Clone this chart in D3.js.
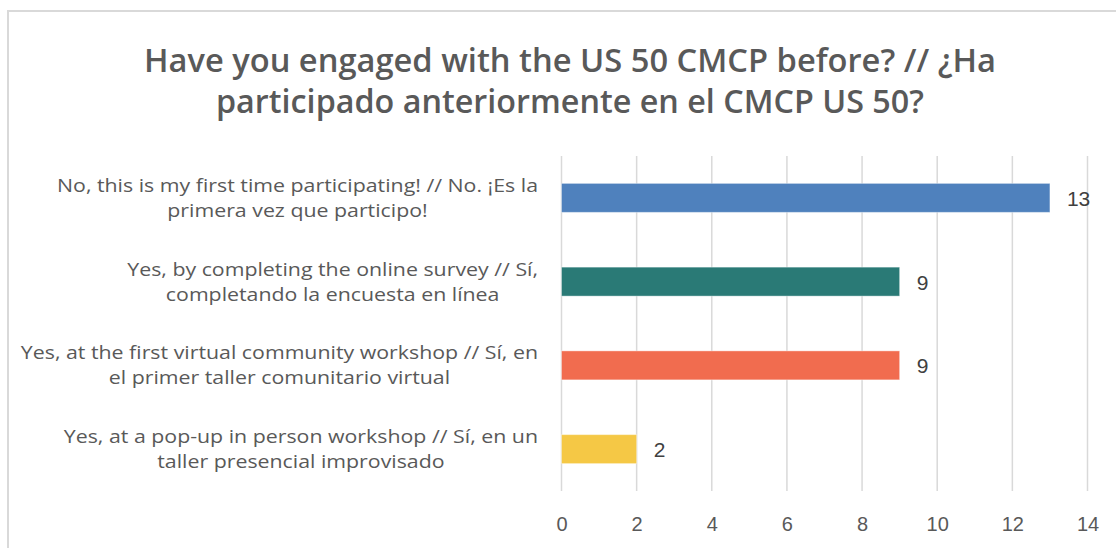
<!DOCTYPE html>
<html>
<head>
<meta charset="utf-8">
<script src="https://cdn.jsdelivr.net/npm/d3@7"></script>
<style>
  body { margin: 0; background: #fff; }
  svg { display: block; }
</style>
</head>
<body>
<div id="chart"></div>
<script>
// Data
var categories = [
  ["No, this is my first time participating! // No. ¡Es la", "primera vez que participo!"],
  ["Yes, by completing the online survey // Sí,", "completando la encuesta en línea"],
  ["Yes, at the first virtual community workshop // Sí, en", "el primer taller comunitario virtual"],
  ["Yes, at a pop-up in person workshop // Sí, en un", "taller presencial improvisado"]
];
var counts = [13, 9, 9, 2];
var barColors = ["#4f81bd", "#2a7a76", "#f16c4f", "#f5c845"];
var xTicks = [0, 2, 4, 6, 8, 10, 12, 14];
var titleLines = ["Have you engaged with the US 50 CMCP before? // ¿Ha", "participado anteriormente en el CMCP US 50?"];

var width = 1116;
var height = 548;

var svg = d3.select('#chart').append('svg')
    .attr('width', width)
    .attr('height', height);

// chart frame (runs off the right and bottom edge)
svg.append('rect')
    .attr('x', 8)
    .attr('y', 11)
    .attr('width', 1200)
    .attr('height', 600)
    .attr('fill', 'none')
    .attr('stroke', '#d9d9d9')
    .attr('stroke-width', 2);

// title
var title = svg.append('g');
title.selectAll('text')
    .data(titleLines)
  .enter().append('text')
    .attr('x', 570)
    .attr('y', function(d, i) { return 72 + i * 41; })
    .attr('text-anchor', 'middle')
    .attr('textLength', function(d, i) { return i == 0 ? 852 : 708; })
    .attr('lengthAdjust', 'spacingAndGlyphs')
    .style('font-family', '"Open Sans", sans-serif')
    .style('font-weight', 600)
    .style('font-size', '33px')
    .style('fill', '#595959')
    .text(function(d) { return d; });

var x = d3.scaleLinear()
    .domain([0, 14])
    .range([561.5, 1087.5]);

var y = d3.scaleBand()
    .domain(d3.range(categories.length))
    .range([156, 491])
    .paddingInner(0.654)
    .paddingOuter(0.327);

// gridlines
svg.append('g').selectAll('line')
    .data(xTicks)
  .enter().append('line')
    .attr('x1', function(d) { return x(d); })
    .attr('x2', function(d) { return x(d); })
    .attr('y1', 156)
    .attr('y2', 491)
    .attr('stroke', '#d9d9d9')
    .attr('stroke-width', 1.5);

// x axis labels
var xAxis = d3.axisBottom(x)
    .tickValues(xTicks)
    .tickSize(0)
    .tickPadding(0);
var gx = svg.append('g')
    .attr('transform', 'translate(0,' + 531 + ')')
    .call(xAxis);
gx.select('.domain').remove();
gx.selectAll('text')
    .attr('dy', 0)
    .style('font-family', '"Liberation Sans", Arial, sans-serif')
    .style('font-size', '20px')
    .style('fill', '#595959');

// bars
svg.append('g').selectAll('rect')
    .data(counts)
  .enter().append('rect')
    .attr('x', x(0))
    .attr('y', function(d, i) { return y(i); })
    .attr('width', function(d) { return x(d) - x(0); })
    .attr('height', y.bandwidth())
    .attr('fill', function(d, i) { return barColors[i]; })
    .attr('stroke', '#ffffff')
    .attr('stroke-opacity', 0.4)
    .attr('stroke-width', 1);

// value labels
svg.append('g').selectAll('text')
    .data(counts)
  .enter().append('text')
    .attr('x', function(d) { return x(d) + 17; })
    .attr('y', function(d, i) { return y(i) + y.bandwidth() / 2 + 8; })
    .style('font-family', '"Liberation Sans", Arial, sans-serif')
    .style('font-size', '21px')
    .style('fill', '#404040')
    .text(function(d) { return d; });

// category labels, two centred lines each, right edge at 538
var labels = svg.append('g').selectAll('g')
    .data(categories)
  .enter().append('g');

labels.each(function(lines, i) {
  var g = d3.select(this);
  var cy = y(i) + y.bandwidth() / 2;
  g.selectAll('text')
      .data(lines)
    .enter().append('text')
      .attr('y', function(d, j) { return cy - 6 + j * 25; })
      .attr('text-anchor', 'middle')
      .style('font-family', '"Open Sans", sans-serif')
      .style('font-size', '18px')
      .style('fill', '#595959')
      .text(function(d) { return d; });
});

// the reference font is wider than ours: stretch every line by one factor
var firstLine = labels.select('text').node();
var stretch = 481 / firstLine.getComputedTextLength();
labels.each(function() {
  var t = d3.select(this).selectAll('text');
  var w = 0;
  t.each(function() {
    var len = this.getComputedTextLength() * stretch;
    d3.select(this).attr('textLength', len).attr('lengthAdjust', 'spacingAndGlyphs');
    w = Math.max(w, len);
  });
  t.attr('x', 538 - w / 2);
});
</script>
</body>
</html>
